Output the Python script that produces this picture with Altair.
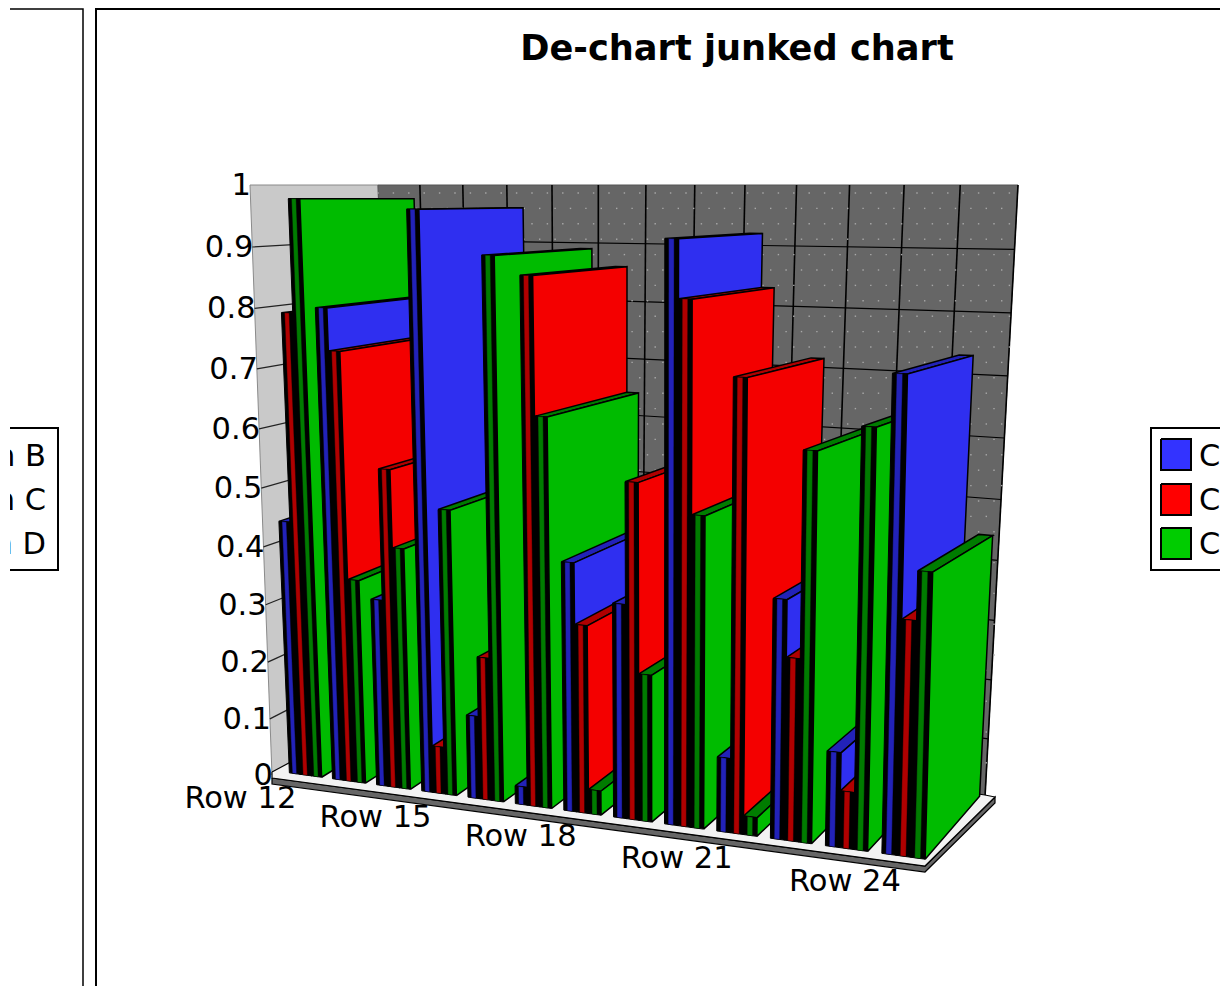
import altair as alt
import pandas as pd

TITLE = "De-chart junked chart"
ROWS = [f"Row {n}" for n in range(12, 25)]
COLUMN_B = [.44, .80, .32, .96, .14, .03, .41, .35, .92, .12, .38, .15, .73]
COLUMN_C = [.79, .73, .54, .08, .24, .86, .31, .545, .83, .715, .29, .09, .365]
COLUMN_D = [.975, .35, .41, .48, .89, .64, .04, .24, .50, .03, .61, .65, .44]
SERIES = ["Column B", "Column C", "Column D"]
SERIES_FILL = ["#2f2ff0", "#f40000", "#00bb00"]
SERIES_DARK = ["#2222b8", "#b00000", "#007c00"]
LEGEND_FILL = ["#3333ff", "#ff0000", "#00cc00"]
TICKS = [0, .1, .2, .3, .4, .5, .6, .7, .8, .9, 1]
TICK_TEXT = ["0", "0.1", "0.2", "0.3", "0.4", "0.5", "0.6", "0.7", "0.8", "0.9", "1"]
LABELLED = [0, 3, 6, 9, 12]

N = len(ROWS)
BAR = .25
START = .15


def conv(u, c=.16):
    return u * (1 - c) / (1 - c * u)


def vmap(v, c=.054):
    return v * (1 - c) / (1 - c * v)


def project(u, d, v):
    t, tb, w = conv(u, .148), conv(u), vmap(v)
    fx = (283 + 648 * t) * (1 - w) + (258 + 691 * t) * w
    fy = (772 + 88 * t) * (1 - w) + (183 + 3 * t) * w
    bx = (395 + 590 * tb) * (1 - w) + (376 + 640 * tb) * w
    by = (705 + 92 * tb) * (1 - w) + 185 * w
    return fx + (bx - fx) * d, fy + (by - fy) * d


rows = []
pid = 0


def add(points, fill="none", stroke="#000000", sw=1.0):
    global pid
    pid += 1
    for i, (x, y) in enumerate(points):
        rows.append(dict(pid=pid, seq=i, px=x, py=y, fill=fill, stroke=stroke, sw=sw))


def close(pts):
    return pts + [pts[0]]


# left wall, back wall and their grid
LW = lambda v: (272 - 22 * vmap(v), 775 - 590 * vmap(v))
WALL = lambda u, v: (
    (395 + 590 * conv(u)) * (1 - vmap(v)) + (378 + 640 * conv(u)) * vmap(v),
    (705 + 92 * conv(u)) * (1 - vmap(v)) + 185 * vmap(v),
)
add(close([LW(0), WALL(0, 0), WALL(0, 1), LW(1)]), "#c9c9c9", "#8a8a8a", 1)
add(close([WALL(0, 0), WALL(1, 0), WALL(1, 1), WALL(0, 1)]), "#666666", "#555555", 1)
for v in TICKS[:-1]:
    add([LW(v), WALL(0, v)], "none", "#222222", 1.2)
    add([WALL(0, v), WALL(1, v)], "none", "#000000", 1.2)
for k in range(1, N + 1):
    add([WALL(k / N, 0), WALL(k / N, 1)], "none", "#000000", 1.6)

# floor
add(close([(272, 778), (272, 784), (925, 872), (995, 803), (995, 797), (925, 866)]), "#666666", "#000000", 1.2)
add(close([(272, 772), (272, 778), (925, 866), (995, 797), (985, 795), (397, 705)]), "#f2f2f2", "#000000", 1.2)
back = pd.DataFrame(rows)
rows = []

# bars, painted from the first row to the last
for r in range(N):
    for s, vals in enumerate([COLUMN_B, COLUMN_C, COLUMN_D]):
        v = vals[r]
        ul = (r + START + s * BAR) / N
        ur = ul + BAR / N
        um1 = ul + .28 * BAR / N
        um2 = ul + .68 * BAR / N
        add(close([project(ul, 0, v), project(ur, 0, v), project(ur, 1, v), project(ul, 1, v)]),
            SERIES_DARK[s], "#000000", 1.5)
        add(close([project(ul, 0, 0), project(ur, 0, 0), project(ur, 0, v), project(ul, 0, v)]),
            "#000000", "#000000", 1)
        add(close([project(um1, 0, 0), project(um2, 0, 0), project(um2, 0, v), project(um1, 0, v)]),
            SERIES_DARK[s], "#000000", .4)
        add(close([project(ur, 0, 0), project(ur, 1, 0), project(ur, 1, v), project(ur, 0, v)]),
            SERIES_FILL[s], "#000000", 1.5)

# frame and clipped legend boxes
add([(10, 9), (83, 9), (83, 986)], "none", "#000000", 1.5)
add([(1228, 9), (96, 9), (96, 986)], "none", "#000000", 2)
add([(10, 428), (58, 428), (58, 570), (10, 570)], "none", "#000000", 2)
add([(1228, 428), (1151, 428), (1151, 570), (1228, 570)], "none", "#000000", 2)
for i, y in enumerate([439, 484, 528]):
    add(close([(1161, y), (1191, y), (1191, y + 31), (1161, y + 31)]), LEGEND_FILL[i], "#000000", 2)
front = pd.DataFrame(rows)

# the wall's stipple
dots = pd.DataFrame([
    dict(px=378 + (i * 15.4 + (j % 2) * 7.7), py=193 + j * 15.4)
    for j in range(40) for i in range(42)
    if 193 + j * 15.4 < 700 + 90 * ((378 + i * 15.4) - 378) / 640
    and 378 + (i * 15.4 + (j % 2) * 7.7) < 1018 - 31 * (193 + j * 15.4 - 185) / 612
])

texts = [dict(px=737, py=49, t=TITLE, weight="bold", align="center")]
for v, lab in zip(TICKS, TICK_TEXT):
    x, y = LW(v)
    texts.append(dict(px=x + 1, py=y + 1, t=lab, weight="normal", align="right"))
for i in LABELLED:
    x, y = project((i + .5) / N, 0, 0)
    frac = i / (N - 1)
    texts.append(dict(px=x - 64 + 7 * frac, py=y + 24 + 2 * frac, t=ROWS[i], weight="normal", align="center"))
for name, y in zip(SERIES, [457, 501, 545]):
    texts.append(dict(px=46, py=y, t=name, weight="normal", align="right"))
    texts.append(dict(px=1199, py=y, t=name, weight="normal", align="left"))
labels = pd.DataFrame(texts)

xs = alt.Scale(domain=[10, 1220], range=[0, 1210], nice=False, zero=False)
ys = alt.Scale(domain=[8, 986], range=[0, 978], nice=False, zero=False)
X = alt.X("px:Q", scale=xs, axis=None)
Y = alt.Y("py:Q", scale=ys, axis=None)


def shape_layer(frame):
    return alt.Chart(frame).mark_line(filled=True, clip=True, strokeJoin="miter", interpolate="linear").encode(
        x=X, y=Y, order=alt.Order("seq:Q"), detail="pid:N",
        fill=alt.Fill("fill:N", scale=None),
        stroke=alt.Stroke("stroke:N", scale=None),
        strokeWidth=alt.StrokeWidth("sw:Q", scale=None),
    )


stipple = alt.Chart(dots).mark_square(size=2, color="#a8a8a8", opacity=1).encode(x=X, y=Y)


def text_layer(align, weight, size):
    subset = labels[(labels["align"] == align) & (labels["weight"] == weight)]
    return alt.Chart(subset).mark_text(
        font="DejaVu Sans", align=align, baseline="middle", clip=True, color="#000000",
        fontWeight=weight, fontSize=size,
    ).encode(x=X, y=Y, text="t:N")


chart = alt.layer(
    shape_layer(back),
    stipple,
    shape_layer(front),
    text_layer("left", "normal", 30.5),
    text_layer("center", "normal", 30.5),
    text_layer("right", "normal", 30.5),
    text_layer("center", "bold", 35.2),
).properties(
    width=1210, height=978,
    autosize=alt.AutoSizeParams(type="none"),
    padding={"left": 2, "top": 0, "right": 0, "bottom": 0},
    background="#ffffff",
).configure_view(stroke=None)

chart.save("out.html", embed_options={"renderer": "svg", "actions": False})
